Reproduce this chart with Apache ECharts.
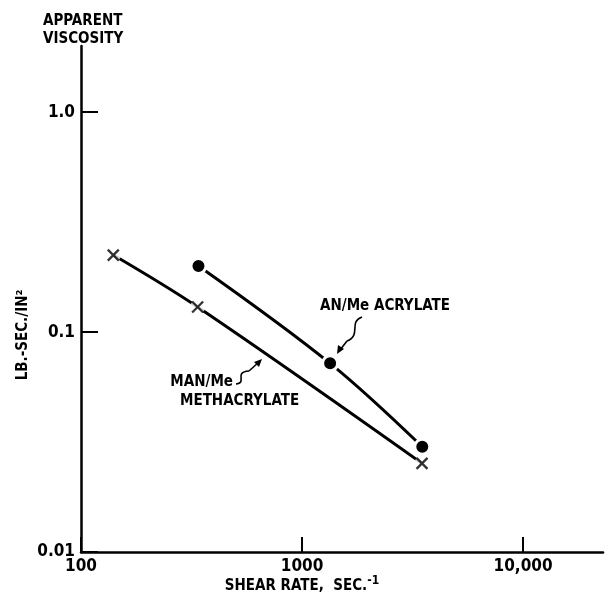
<!DOCTYPE html>
<html>
<head>
<meta charset="utf-8">
<script src="https://cdn.jsdelivr.net/npm/echarts@6/dist/echarts.min.js"></script>
<style>
  html, body { margin: 0; padding: 0; background: #fff; }
  #chart { width: 609px; height: 601px; }
</style>
</head>
<body>
<div id="chart"></div>
<script>
// shear rate (1/sec) vs apparent viscosity (lb-sec/in2)
const anShear = [340, 1340, 3500]
const anVisc = [0.200, 0.0721, 0.0301]
const manShear = [140, 337, 3490]
const manVisc = [0.224, 0.130, 0.0253]

const xTicks = [100, 1000, 10000]
const xTickLabels = ['100', '1000', '10,000']
const yTicks = [0.01, 0.1, 1]
const yTickLabels = ['0.01', '0.1', '1.0']

const font = '"DejaVu Sans Condensed", sans-serif'
const ink = '#000'

const anData = anShear.map((x, i) => [x, anVisc[i]])
const manData = manShear.map((x, i) => [x, manVisc[i]])

const chart = echarts.init(document.getElementById('chart'))

const leader = { fill: null, stroke: ink, lineWidth: 1.6 }

const pick = (ticks, labels) => v => {
  const i = ticks.findIndex(t => Math.abs(t - v) < t * 1e-6)
  return i >= 0 ? labels[i] : ''
}

const options = {
  animation: false,
  grid: { left: 81, right: 6, top: 46, bottom: 49 },
  xAxis: {
    type: 'log',
    logBase: 10,
    min: 100,
    max: 23000,
    axisLine: { lineStyle: { color: ink, width: 2.5 } },
    axisTick: { inside: true, length: 15, lineStyle: { color: ink, width: 2 }, customValues: xTicks },
    axisLabel: {
      customValues: xTicks,
      formatter: pick(xTicks, xTickLabels),
      color: ink, fontFamily: font, fontWeight: 'bold', fontSize: 17, margin: 6
    },
    splitLine: { show: false },
    minorTick: { show: false }
  },
  yAxis: {
    type: 'log',
    logBase: 10,
    min: 0.01,
    max: 2,
    axisLine: { lineStyle: { color: ink, width: 2.5 } },
    axisTick: { inside: true, length: 17, lineStyle: { color: ink, width: 2 }, customValues: yTicks },
    axisLabel: {
      customValues: yTicks,
      formatter: pick(yTicks, yTickLabels),
      color: ink, fontFamily: font, fontWeight: 'bold', fontSize: 17, margin: 6
    },
    splitLine: { show: false },
    minorTick: { show: false }
  },
  graphic: [
    { type: 'text', x: 43, y: 12, style: { text: 'APPARENT\nVISCOSITY', font: 'bold 15px ' + font, fill: ink, lineHeight: 18 } },
    { type: 'text', x: 23, y: 335, rotation: Math.PI / 2, style: { text: 'LB.-SEC./IN²', font: 'bold 15px ' + font, fill: ink, align: 'center', verticalAlign: 'middle' } },
    {
      type: 'text', x: 302, y: 586,
      style: {
        text: 'SHEAR RATE,  SEC.{s|-1}', font: 'bold 15px ' + font, fill: ink, align: 'center', verticalAlign: 'middle',
        rich: { s: { font: 'bold 12px ' + font, fill: ink, verticalAlign: 'top', padding: [0, 0, 10, 0] } }
      }
    },
    { type: 'text', x: 320, y: 306, style: { text: 'AN/Me ACRYLATE', font: 'bold 15px ' + font, fill: ink, verticalAlign: 'middle' } },
    { type: 'text', x: 233, y: 382, style: { text: 'MAN/Me', font: 'bold 15px ' + font, fill: ink, align: 'right', verticalAlign: 'middle' } },
    { type: 'text', x: 180, y: 401, style: { text: 'METHACRYLATE', font: 'bold 15px ' + font, fill: ink, verticalAlign: 'middle' } },
    // squiggle leaders
    { type: 'bezierCurve', shape: { x1: 362, y1: 317, cpx1: 348, cpy1: 322, cpx2: 362, cpy2: 335, x2: 347, y2: 341 }, style: leader },
    { type: 'line', shape: { x1: 347, y1: 341, x2: 340, y2: 350 }, style: leader },
    { type: 'polygon', shape: { points: [[337, 354], [338, 345], [344, 349]] }, style: { fill: ink } },
    { type: 'bezierCurve', shape: { x1: 236, y1: 384, cpx1: 248, cpy1: 383, cpx2: 233, cpy2: 372, x2: 249, y2: 371 }, style: leader },
    { type: 'line', shape: { x1: 249, y1: 371, x2: 259, y2: 362 }, style: leader },
    { type: 'polygon', shape: { points: [[262, 359], [254, 362], [259, 367]] }, style: { fill: ink } }
  ],
  series: [
    {
      name: 'AN/Me Acrylate',
      type: 'line',
      data: anData,
      smooth: 0.35,
      symbol: 'circle',
      symbolSize: 15,
      itemStyle: { color: ink, borderColor: '#fff', borderWidth: 3 },
      lineStyle: { color: ink, width: 3 },
      z: 3
    },
    {
      name: 'MAN/Me Methacrylate',
      type: 'line',
      data: manData,
      smooth: 0.35,
      showSymbol: false,
      lineStyle: { color: ink, width: 3 },
      z: 2
    },
    {
      type: 'scatter',
      data: manData,
      symbol: 'circle',
      symbolSize: 15,
      itemStyle: { color: '#fff' },
      silent: true,
      z: 4
    },
    {
      type: 'scatter',
      data: manData,
      symbol: 'path://M0,0L10,10M10,0L0,10',
      symbolSize: 11,
      itemStyle: { color: 'transparent', borderColor: ink, borderWidth: 2.3 },
      z: 5
    }
  ]
}

chart.setOption(options)

window.addEventListener('resize', () => {
  chart.resize()
})
</script>
</body>
</html>
